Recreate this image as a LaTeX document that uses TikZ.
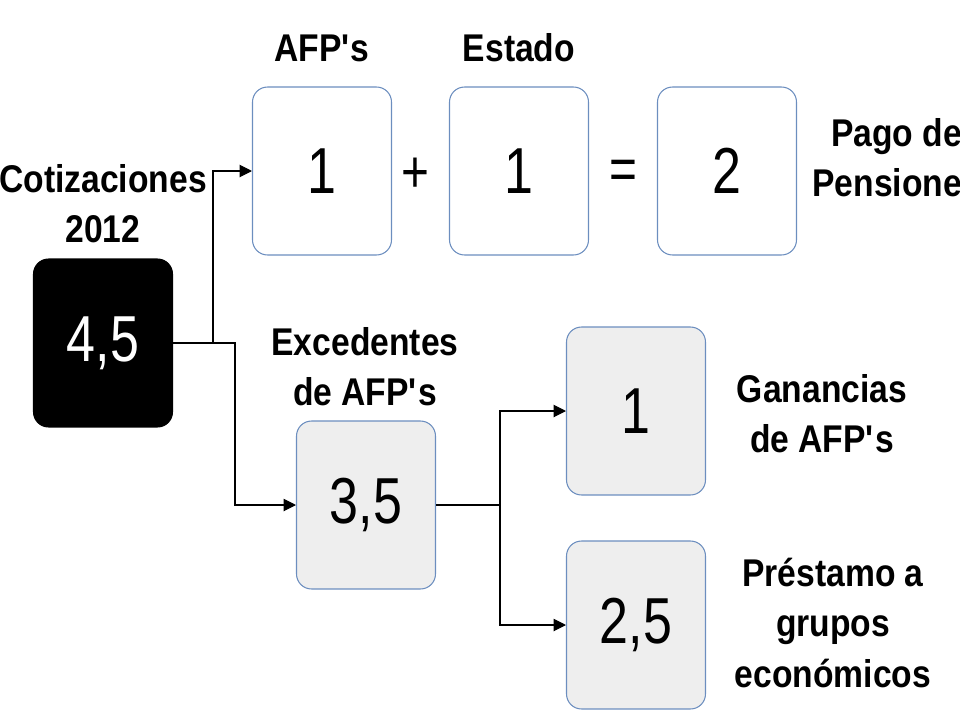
\documentclass[tikz,border=0pt]{standalone}
\usepackage{fontspec}
\setmainfont{Liberation Sans}[FakeStretch=0.87]
\newfontfamily\numfont{Liberation Sans}[FakeStretch=0.8]
\usetikzlibrary{arrows.meta}
\definecolor{boxline}{HTML}{6C8EBF}
\definecolor{boxgray}{HTML}{EEEEEE}
\newcommand{\afps}{AFP\textquotesingle s}

\begin{document}
\begin{tikzpicture}[x=0.02cm,y=-0.02cm,
    numbox/.style={draw=boxline, line width=0.6pt, rounded corners=0.3cm, minimum width=2.78cm, minimum height=3.36cm, font=\numfont\fontsize{37}{39}\selectfont, inner sep=0pt},
    graybox/.style={numbox, fill=boxgray},
    blackbox/.style={numbox, draw=black, fill=black, text=white},
    lbl/.style={font=\bfseries\fontsize{22}{28.5}\selectfont, align=center, inner sep=0pt},
    sign/.style={font=\numfont\fontsize{34}{36}\selectfont, inner sep=0pt},
    link/.style={-{Triangle[length=7pt,width=7pt]}, semithick}]
  \useasboundingbox (0,0) rectangle (960,720);
      \node (total)    at (103,343) [blackbox] {4,5};
      \node (totallbl) at (103,204) [lbl] {Cotizaciones\\2012};
      \node (afp)      at (322,171) [numbox] {1};
      \node (estado)   at (519,171) [numbox] {1};
      \node (pago)     at (727,171) [numbox] {2};
      \node (plus)     at (415,175) [sign] {+};
      \node (equals)   at (623,175) [sign] {=};
      \node (afplbl)   at (322,48)  [lbl] {\afps};
      \node (estadolbl) at (519,48) [lbl] {Estado};
      \node (pagolbl)  at (812,158) [lbl, anchor=west] {Pago de\\Pensiones};
      \node (exc)      at (366,505) [graybox] {3,5};
      \node (exclbl)   at (365,367) [lbl] {Excedentes\\de \afps};
      \node (gan)      at (636,411) [graybox] {1};
      \node (ganlbl)   at (822,414) [lbl] {Ganancias\\de \afps};
      \node (prest)    at (636,625) [graybox] {2,5};
      \node (prestlbl) at (833,623) [lbl] {Préstamo a\\grupos\\económicos};
      % connectors
      \coordinate (split)  at (213,343);
      \coordinate (split2) at (500,505);
      \draw[semithick] (total.east) -- (split);
      \draw[link] (split) |- (afp.west);
      \draw[link] (split) -- (235,343) |- (exc.west);
      \draw[semithick] (exc.east) -- (split2);
      \draw[link] (split2) |- (gan.west);
      \draw[link] (split2) |- (prest.west);
    \end{tikzpicture}
\end{document}
